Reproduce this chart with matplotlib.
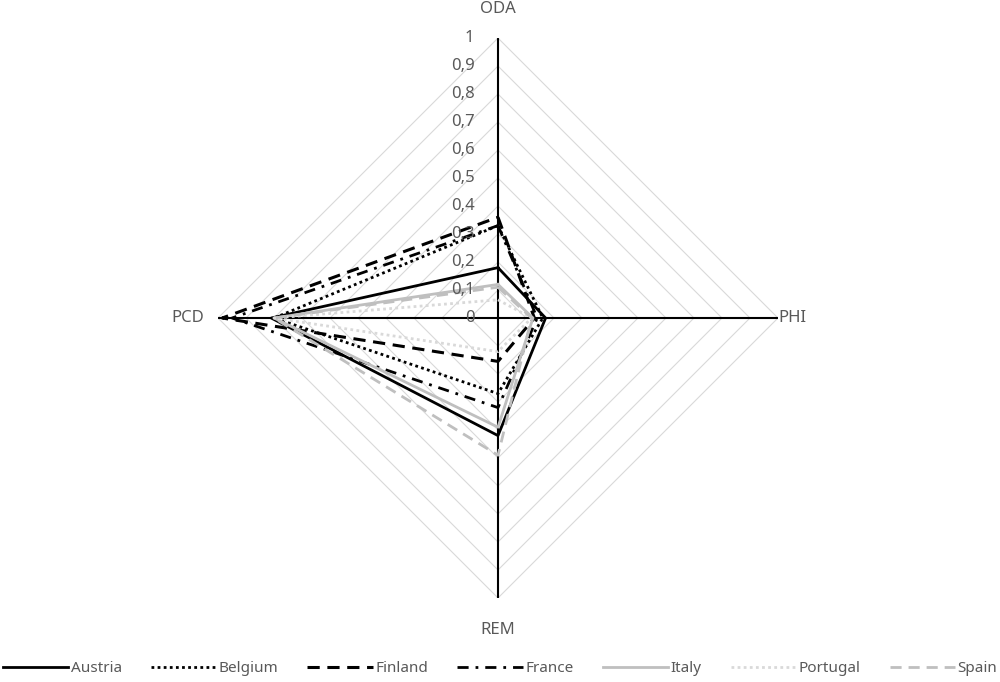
import numpy as np
import matplotlib
matplotlib.use("Agg")
import matplotlib.pyplot as plt

plt.rcParams["font.family"] = ["Noto Sans", "DejaVu Sans"]

# axes of the radar, clockwise from top
categories = ["ODA", "PHI", "REM", "PCD"]

austria = [0.18, 0.17, 0.42, 0.81]
belgium = [0.33, 0.16, 0.27, 0.80]
finland = [0.36, 0.13, 0.155, 0.985]
france = [0.33, 0.14, 0.32, 0.95]
italy = [0.12, 0.125, 0.39, 0.80]
portugal = [0.065, 0.12, 0.12, 0.80]
spain = [0.11, 0.12, 0.49, 0.80]

tick_values = [0, 0.1, 0.2, 0.3, 0.4, 0.5, 0.6, 0.7, 0.8, 0.9, 1]
tick_labels = ["0", "0,1", "0,2", "0,3", "0,4", "0,5", "0,6", "0,7", "0,8", "0,9", "1"]

series = [
    ("Austria", austria, dict(color="black", ls="-", lw=2)),
    ("Belgium", belgium, dict(color="black", ls=(0, (1, 1.2)), lw=2)),
    ("Finland", finland, dict(color="black", ls=(0, (4, 2.5)), lw=2.2)),
    ("France", france, dict(color="black", ls=(0, (4, 2.5, 1, 2.5)), lw=2)),
    ("Italy", italy, dict(color="#bfbfbf", ls="-", lw=2)),
    ("Portugal", portugal, dict(color="#d9d9d9", ls=(0, (1, 1.2)), lw=2)),
    ("Spain", spain, dict(color="#bfbfbf", ls=(0, (4, 2.5)), lw=2)),
]

text_color = "#595959"

fig = plt.figure(figsize=(10, 6.82), dpi=100)
ax = fig.add_axes([0.218, 0.1232, 0.56, 0.821], projection="polar")
ax.set_theta_zero_location("N")
ax.set_theta_direction(-1)
ax.set_ylim(0, 1)
ax.set_xticks([])
ax.set_yticks([])
ax.grid(False)
ax.spines["polar"].set_visible(False)
ax.patch.set_visible(False)

theta = np.deg2rad([0, 90, 180, 270])
theta_closed = np.append(theta, theta[0])

# diamond gridlines
for r in tick_values[1:]:
    ax.plot(theta_closed, [r] * 5, color="#d9d9d9", lw=0.8, zorder=1)

# spokes
for t in theta:
    ax.plot([t, t], [0, 1], color="black", lw=1.5, zorder=2)

for name, vals, style in series:
    ax.plot(theta_closed, vals + [vals[0]], label=name, zorder=3, **style)

# radial tick labels left of the ODA axis
for v, lab in zip(tick_values, tick_labels):
    ax.annotate(lab, xy=(0, v), xytext=(-17, 0), textcoords="offset points",
                ha="right", va="center", fontsize=12, color=text_color, zorder=4)

# category labels
offsets = [((0, 15), "center", "bottom"), ((0, 0), "left", "center"),
           ((0, -17), "center", "top"), ((-10, 0), "right", "center")]
for t, cat, (off, ha, va) in zip(theta, categories, offsets):
    ax.annotate(cat, xy=(t, 1), xytext=off, textcoords="offset points",
                ha=ha, va=va, fontsize=12, color=text_color)

leg = fig.legend(loc="center", bbox_to_anchor=(0.5, 0.0195), ncol=7, frameon=False,
                 fontsize=11, handlelength=4.3, columnspacing=1.9, handletextpad=0.15)
for t in leg.get_texts():
    t.set_color(text_color)

fig.savefig("out.png", dpi=100)
